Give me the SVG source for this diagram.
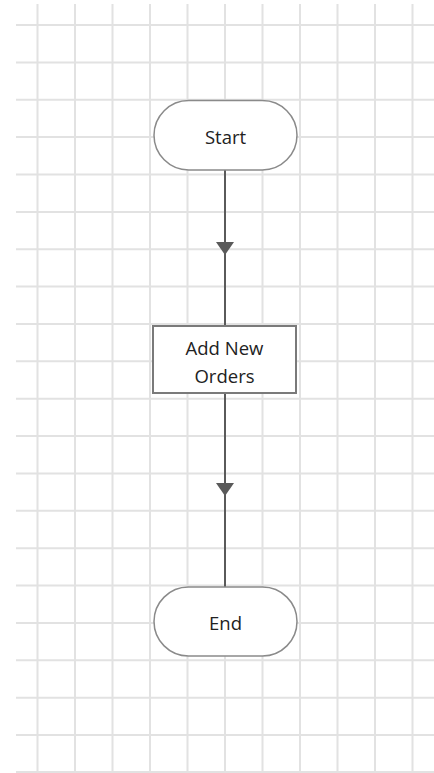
<svg xmlns="http://www.w3.org/2000/svg" width="434" height="773" viewBox="0 0 434 773">
<defs>
<style>
.grid line{stroke:#e2e2e2;stroke-width:2}
.term{fill:#fff;stroke:#8a8a8a;stroke-width:1.5}
.proc{fill:#fff;stroke:#7a7a7a;stroke-width:2}
.lbl{font-family:"Open Sans","Noto Sans",sans-serif;font-size:18.5px;fill:#222;text-anchor:middle}
.conn{stroke:#5a5a5a;stroke-width:2;fill:none}
.arrow{fill:#5a5a5a}
</style>
</defs>
<rect width="434" height="773" fill="#fff"/>
<g class="grid" id="grid">
<line x1="37.5" y1="4" x2="37.5" y2="773"/>
<line x1="75" y1="4" x2="75" y2="773"/>
<line x1="112.5" y1="4" x2="112.5" y2="773"/>
<line x1="150" y1="4" x2="150" y2="773"/>
<line x1="187.5" y1="4" x2="187.5" y2="773"/>
<line x1="225" y1="4" x2="225" y2="773"/>
<line x1="262.5" y1="4" x2="262.5" y2="773"/>
<line x1="300" y1="4" x2="300" y2="773"/>
<line x1="337.5" y1="4" x2="337.5" y2="773"/>
<line x1="375" y1="4" x2="375" y2="773"/>
<line x1="412.5" y1="4" x2="412.5" y2="773"/>
<line x1="16" y1="25" x2="434" y2="25"/>
<line x1="16" y1="62.4" x2="434" y2="62.4"/>
<line x1="16" y1="99.7" x2="434" y2="99.7"/>
<line x1="16" y1="137.1" x2="434" y2="137.1"/>
<line x1="16" y1="174.5" x2="434" y2="174.5"/>
<line x1="16" y1="211.9" x2="434" y2="211.9"/>
<line x1="16" y1="249.2" x2="434" y2="249.2"/>
<line x1="16" y1="286.6" x2="434" y2="286.6"/>
<line x1="16" y1="324" x2="434" y2="324"/>
<line x1="16" y1="361.3" x2="434" y2="361.3"/>
<line x1="16" y1="398.7" x2="434" y2="398.7"/>
<line x1="16" y1="436.1" x2="434" y2="436.1"/>
<line x1="16" y1="473.4" x2="434" y2="473.4"/>
<line x1="16" y1="510.8" x2="434" y2="510.8"/>
<line x1="16" y1="548.2" x2="434" y2="548.2"/>
<line x1="16" y1="585.6" x2="434" y2="585.6"/>
<line x1="16" y1="622.9" x2="434" y2="622.9"/>
<line x1="16" y1="660.3" x2="434" y2="660.3"/>
<line x1="16" y1="697.7" x2="434" y2="697.7"/>
<line x1="16" y1="735" x2="434" y2="735"/>
<line x1="16" y1="772" x2="434" y2="772"/>
</g>
<g id="connectors">
<line class="conn" x1="225" y1="170" x2="225" y2="326"/>
<polygon class="arrow" points="216,242 234,242 225,255"/>
<line class="conn" x1="225" y1="393" x2="225" y2="587"/>
<polygon class="arrow" points="216,483 234,483 225,496"/>
</g>
<g id="start">
<rect class="term" x="154" y="100.5" width="143" height="69.5" rx="34.75" ry="34.75"/>
<text class="lbl" x="225.5" y="144">Start</text>
</g>
<g id="add-new-orders">
<rect class="proc" x="153" y="326" width="143" height="67"/>
<text class="lbl" x="224.5" y="355">Add New</text>
<text class="lbl" x="224.5" y="383">Orders</text>
</g>
<g id="end">
<rect class="term" x="154" y="587" width="143" height="69" rx="34.5" ry="34.5"/>
<text class="lbl" x="225.5" y="630">End</text>
</g>
</svg>
